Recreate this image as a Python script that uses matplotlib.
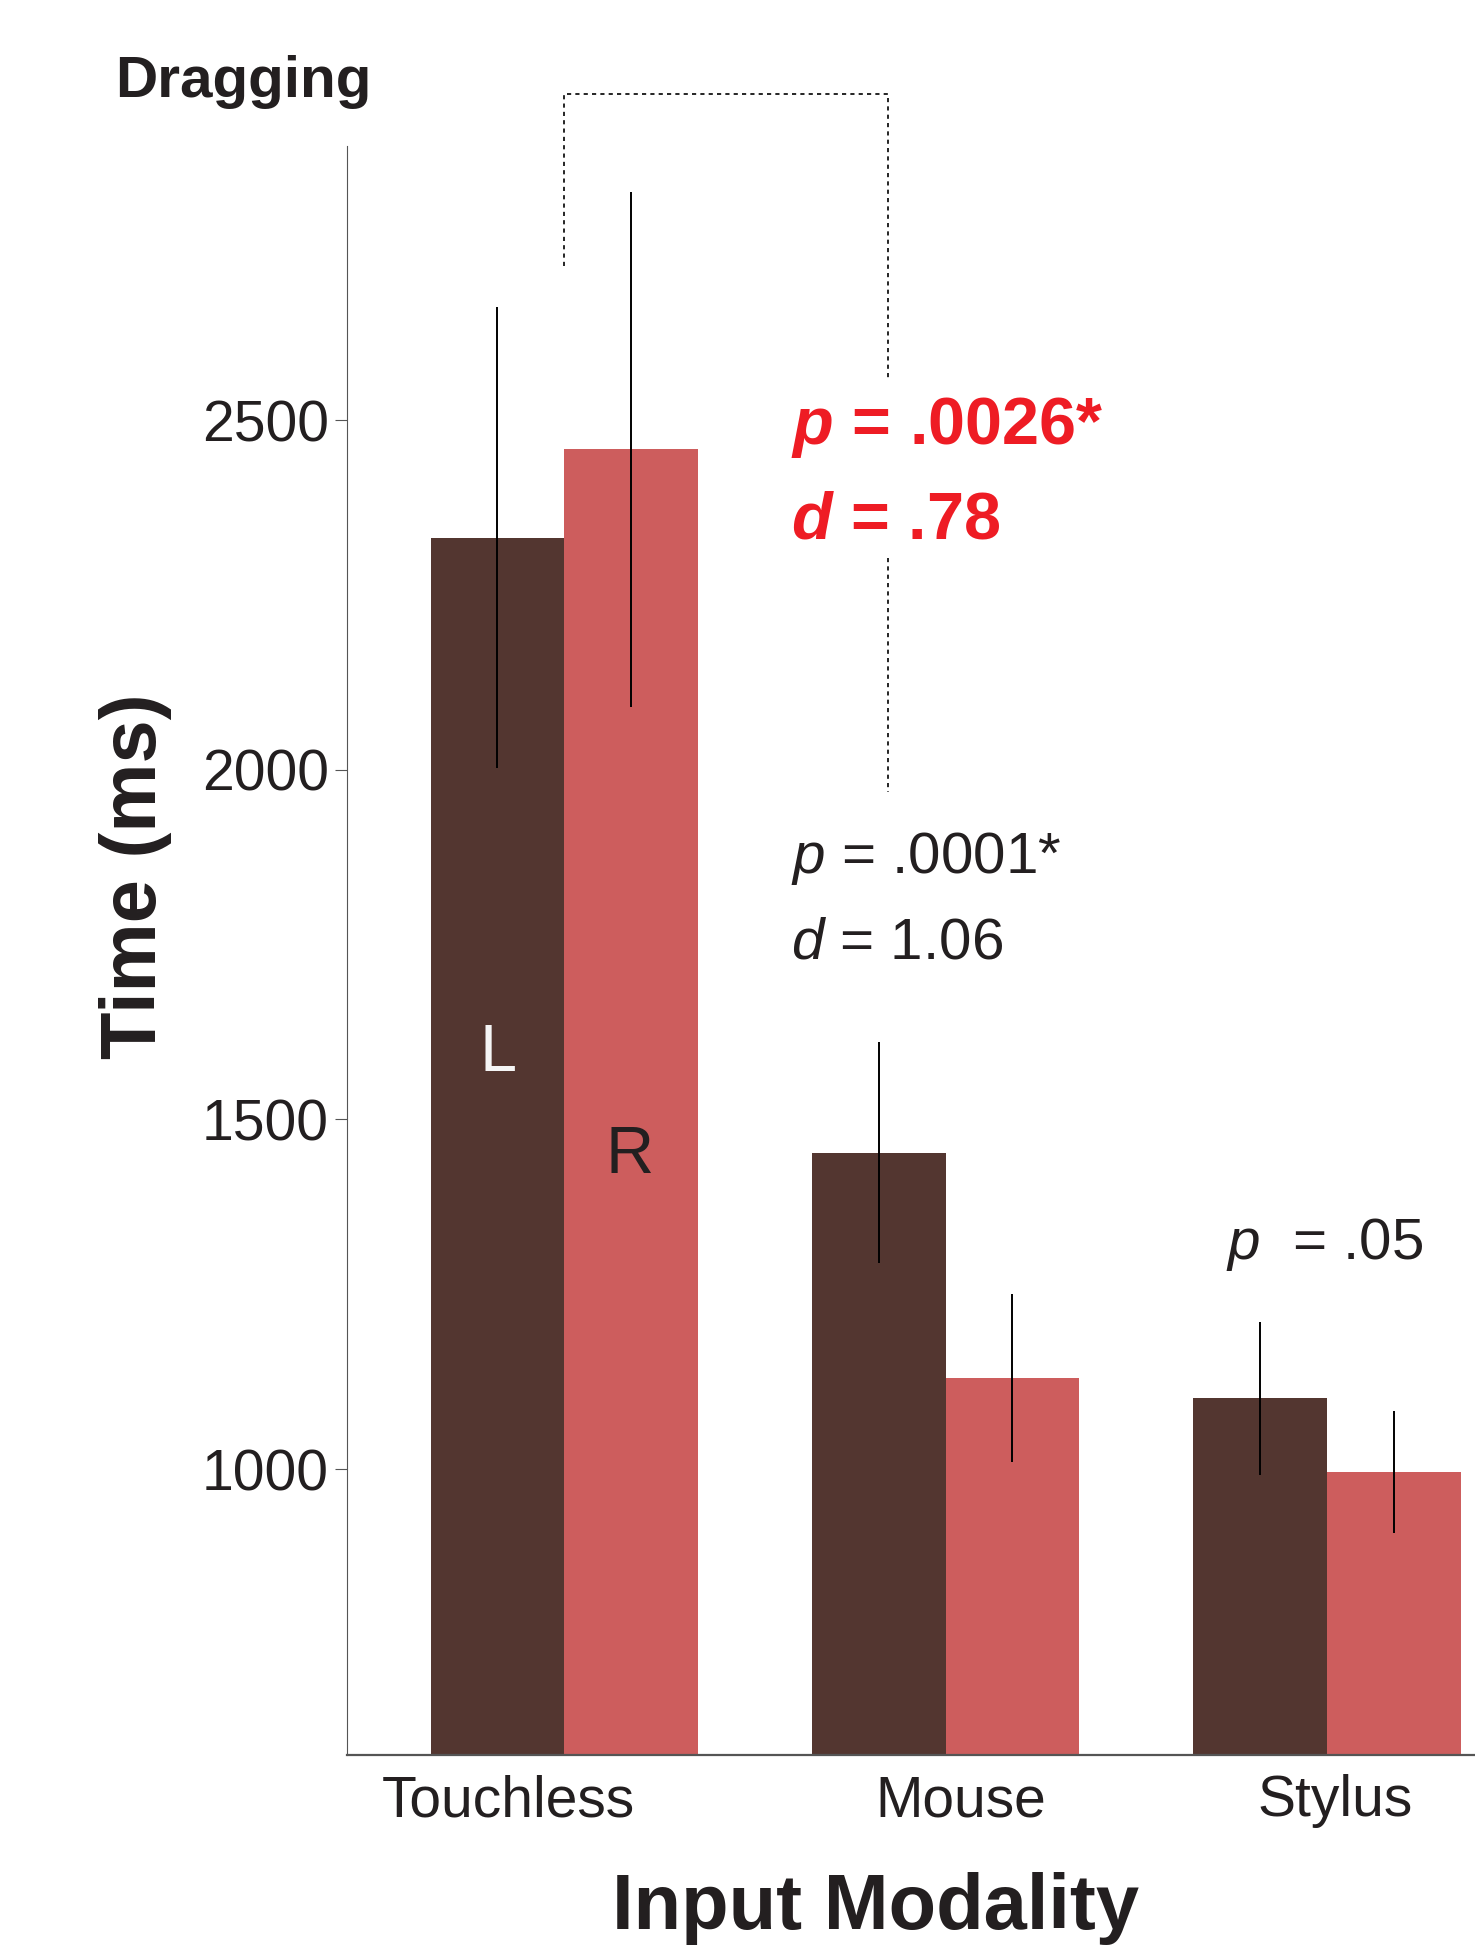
import numpy as np
import matplotlib
matplotlib.use("Agg")
from matplotlib import pyplot as plt

# datos
modalidades = ["Touchless", "Mouse", "Stylus"]
tiempo_izq = [2332, 1452, 1101]
tiempo_der = [2458, 1130, 996]
error_izq = [330, 158, 109]
error_der = [368, 120, 87]
yticks = [1000, 1500, 2000, 2500]

color_izq = "#533630"
color_der = "#CD5D5D"
rojo = "#EE1C24"
texto = "#231F20"

plt.rcParams['font.family'] = ['Liberation Sans', 'DejaVu Sans']
plt.rcParams['mathtext.fontset'] = 'custom'
plt.rcParams['mathtext.rm'] = 'Liberation Sans'
plt.rcParams['mathtext.it'] = 'Liberation Sans:italic'
plt.rcParams['mathtext.bf'] = 'Liberation Sans:bold'
plt.rcParams['mathtext.bfit'] = 'Liberation Sans:bold:italic'

fig = plt.figure(figsize=(14.75, 19.45), dpi=100)
ax = fig.add_axes([347 / 1475, 1 - 1755 / 1945, 1 - 347 / 1475, (1755 - 146) / 1945])

x = np.arange(len(modalidades))
ancho = 0.35
ax.bar(x - ancho / 2, tiempo_izq, ancho, color=color_izq, zorder=1)
ax.bar(x + ancho / 2, tiempo_der, ancho, color=color_der, zorder=1)
ax.errorbar(x - ancho / 2, tiempo_izq, yerr=error_izq, fmt='none', ecolor='black',
            elinewidth=1.4, capsize=0, zorder=2)
ax.errorbar(x + ancho / 2, tiempo_der, yerr=error_der, fmt='none', ecolor='black',
            elinewidth=1.4, capsize=0, zorder=2)

ax.set_xlim(-0.569, 2.388)
ax.set_ylim(591, 2892)

for lado in ['top', 'right']:
    ax.spines[lado].set_visible(False)
ax.spines['left'].set_color('#555555')
ax.spines['left'].set_linewidth(0.8)
ax.spines['bottom'].set_color('#555555')
ax.spines['bottom'].set_linewidth(1.6)
ax.spines['bottom'].set_zorder(3)

ax.set_yticks(yticks)
ax.set_yticklabels([str(v) for v in yticks], fontsize=41, color=texto)
ax.tick_params(axis='y', direction='out', length=9, width=0.8, color='#555555', pad=4)
ax.set_xticks([-0.146, 1.04, 2.02])
ax.set_xticklabels(modalidades, fontsize=41, color=texto)
ax.tick_params(axis='x', length=0, pad=14)

# letras L / R dentro de las barras
ax.text(-0.172, 1594, "L", fontsize=48, color='#F5F5F5', ha='center', va='center')
ax.text(0.172, 1447, "R", fontsize=48, color=texto, ha='center', va='center')

# corchete punteado
estilo = dict(color='black', linewidth=1.2, linestyle=(0, (2.5, 2.5)), clip_on=False)
ax.plot([0, 0, 0.849, 0.849], [2720, 2966, 2966, 2560], **estilo)
ax.plot([0.849, 0.849], [2303, 1968], **estilo)

# estadisticos
ax.text(0.595, 2466, r"$\mathbfit{p}$ = .0026*", fontsize=48, fontweight='bold',
        color=rojo, va='baseline')
ax.text(0.595, 2330, r"$\mathbfit{d}$ = .78", fontsize=48, fontweight='bold',
        color=rojo, va='baseline')
ax.text(0.595, 1853, r"$p$ = .0001*", fontsize=42, color=texto, va='baseline')
ax.text(0.595, 1730, r"$d$ = 1.06", fontsize=42, color=texto, va='baseline')
ax.text(1.736, 1300, r"$p$  = .05", fontsize=42, color=texto, va='baseline')

fig.text(115 / 1475, 1 - 97 / 1945, "Dragging", fontsize=42, fontweight='bold',
         color=texto, va='baseline', ha='left')
fig.text(876 / 1475, 1 - 1929 / 1945, "Input Modality", fontsize=56, fontweight='bold',
         color=texto, va='baseline', ha='center')
fig.text(136 / 1475, 1 - 876 / 1945, "Time (ms)", fontsize=56, fontweight='bold',
         color=texto, rotation=90, va='center', ha='center')

fig.savefig("out.png", dpi=100)
